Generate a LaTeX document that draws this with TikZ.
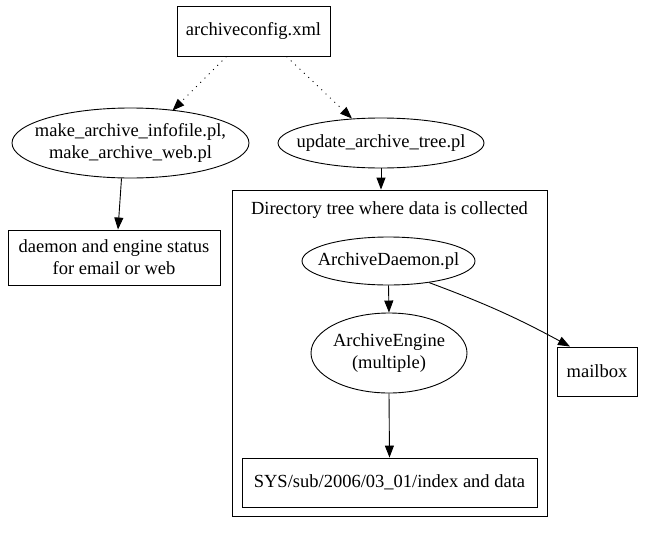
\documentclass[tikz,border=0pt]{standalone}
\usepackage{fontspec}
\setmainfont{Liberation Serif}
\usetikzlibrary{shapes.geometric,arrows.meta}
\begin{document}
\begin{tikzpicture}[x=1pt,y=1pt,
  every node/.style={font=\fontsize{18.5}{22}\selectfont, inner sep=0pt, align=center},
  every label/.style={font=\fontsize{18.5}{22}\selectfont, inner sep=0pt, align=center},
  box/.style={draw, line width=0.9pt, rectangle},
  oval/.style={draw, line width=0.9pt, ellipse},
  edge/.style={line width=0.9pt, -{Triangle[length=12pt,width=9pt]}},
  dotedge/.style={edge, dash pattern=on 1pt off 5pt}
]
\useasboundingbox (0,0) rectangle (647,-546);
\node[box, minimum width=153pt, minimum height=50pt] (cfg) at (253.5,-31) {archiveconfig.xml};
\node[oval, minimum width=237pt, minimum height=70pt,
  label={[name=mkt]center:make\_archive\_infofile.pl,\\make\_archive\_web.pl}] (mk) at (130.5,-143) {};
\node[oval, minimum width=206pt, minimum height=50pt,
  label={[name=updt]center:update\_archive\_tree.pl}] (upd) at (381,-143) {};
\node[box, minimum width=212pt, minimum height=55pt] (st) at (114,-257.5) {daemon and engine status\\for email or web};
\node[box, minimum width=315pt, minimum height=326pt] (cl) at (389.5,-353) {};
\node (cllabel) at (389.5,-210) {Directory tree where data is collected};
\node[oval, minimum width=173pt, minimum height=48pt,
  label={[name=dmt]center:ArchiveDaemon.pl}] (dm) at (388.5,-261) {};
\node[oval, minimum width=156pt, minimum height=80pt,
  label={[name=engt]center:ArchiveEngine\\(multiple)}] (eng) at (389,-353) {};
\node[box, minimum width=295pt, minimum height=49pt] (sys) at (389.5,-482.5) {SYS/sub/2006/03\_01/index and data};
\node[box, minimum width=80pt, minimum height=49pt] (mb) at (597,-371.5) {mailbox};
\draw[dotedge] ([xshift=-27pt]cfg.south) -- ([xshift=42pt,yshift=-3pt]mk.north);
\draw[dotedge] ([xshift=33pt]cfg.south) -- ([xshift=-29pt,yshift=-1pt]upd.north);
\draw[edge] ([xshift=-9pt]mk.south) -- ([xshift=4pt]st.north);
\draw[edge] (upd.south) -- (upd.south |- cl.north);
\draw[edge] (dm.south) -- (eng.north);
\draw[edge] (eng.south) -- (sys.north);
\draw[edge] (dm.-28) to[bend left=4] ([xshift=-27pt]mb.north);
\end{tikzpicture}
\end{document}
